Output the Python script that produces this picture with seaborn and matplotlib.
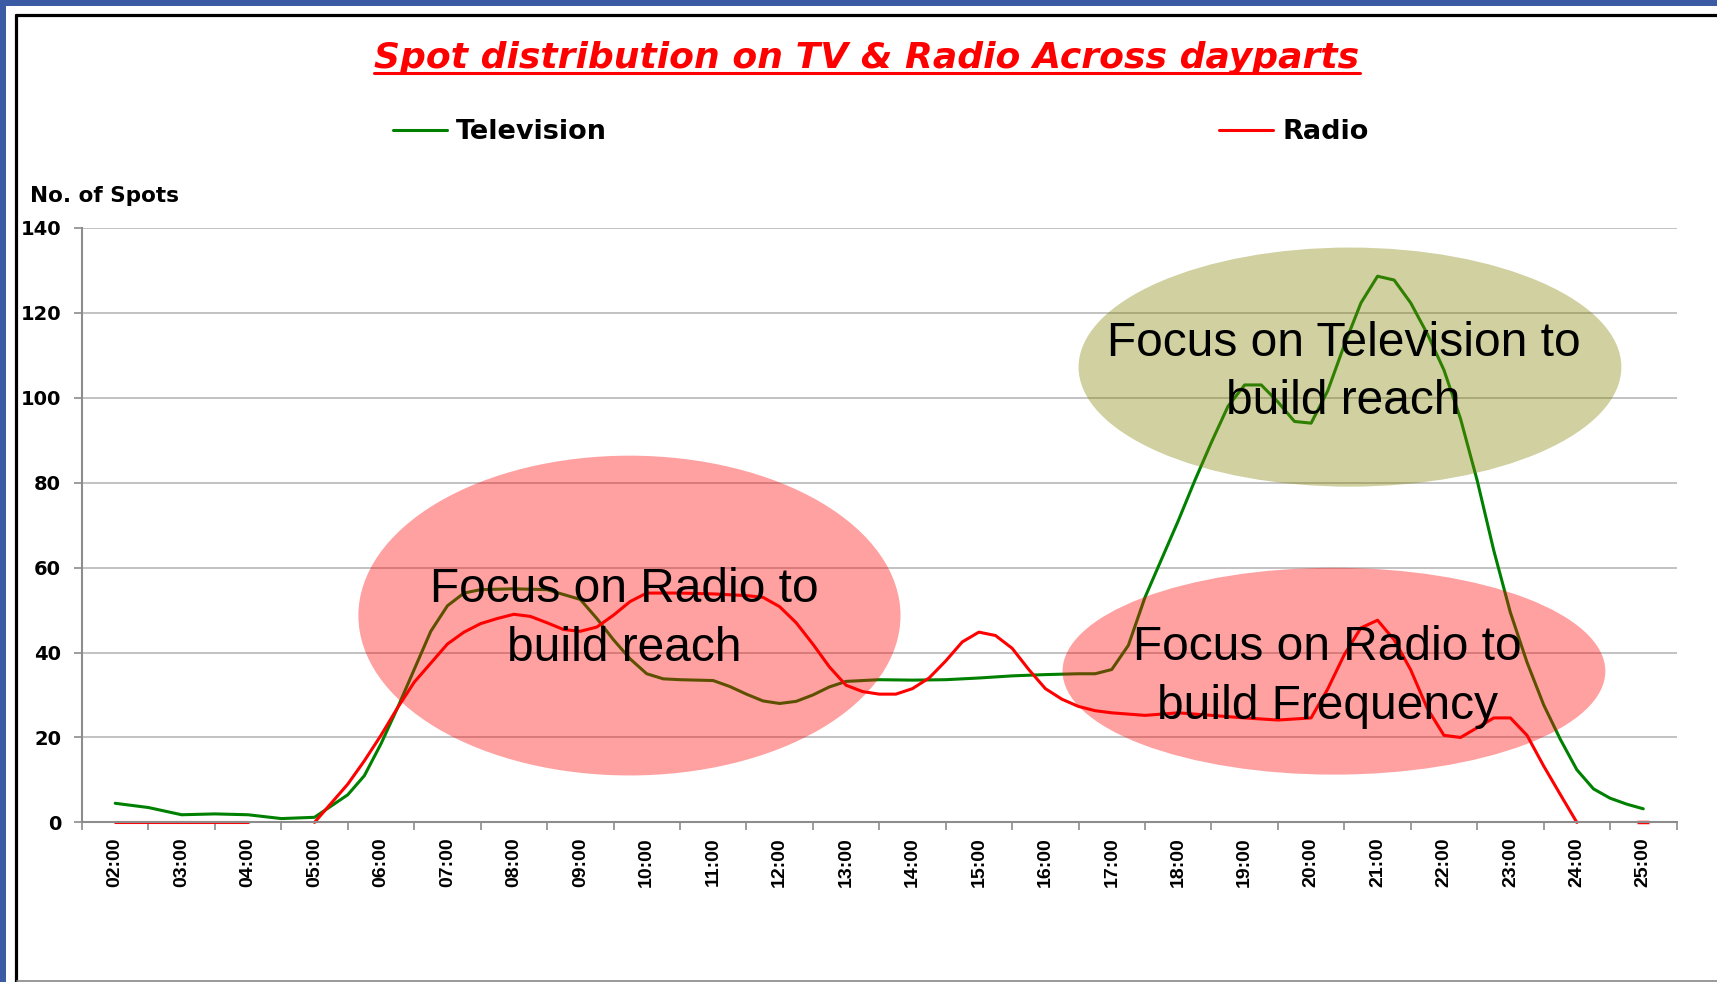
import numpy as np
import pandas as pd
import matplotlib
matplotlib.use("Agg")
import matplotlib.pyplot as plt
import seaborn as sns
from matplotlib.patches import Ellipse, Rectangle
from matplotlib.lines import Line2D
from matplotlib import font_manager

# hour labels on the category axis
hours = ["02:00", "03:00", "04:00", "05:00", "06:00", "07:00", "08:00", "09:00",
         "10:00", "11:00", "12:00", "13:00", "14:00", "15:00", "16:00", "17:00",
         "18:00", "19:00", "20:00", "21:00", "22:00", "23:00", "24:00", "25:00"]

# Television spots
tv_times = ["02:00", "02:30", "03:00", "03:30", "04:00", "04:30", "05:00", "05:30", "05:45",
            "06:00", "06:15", "06:30", "06:45", "07:00", "07:15", "07:30", "08:00", "08:30",
            "09:00", "09:15", "09:30", "09:45", "10:00", "10:15", "10:30", "11:00", "11:15",
            "11:30", "11:45", "12:00", "12:15", "12:30", "12:45", "13:00", "13:30", "14:00",
            "14:30", "15:00", "15:30", "16:00", "16:30", "16:45", "17:00", "17:15", "17:30",
            "17:45", "18:00", "18:15", "18:30", "18:45", "19:00", "19:15", "19:30", "19:45",
            "20:00", "20:15", "20:30", "20:45", "21:00", "21:15", "21:30", "21:45", "22:00",
            "22:15", "22:30", "22:45", "23:00", "23:15", "23:30", "23:45", "24:00", "24:15",
            "24:30", "24:45", "25:00"]
tv_spots = [4.5, 3.5, 1.8, 2.0, 1.8, 0.9, 1.2, 6.5, 11,
            18.5, 27, 36, 45, 51, 54, 54.8, 55, 54.8,
            52.5, 48, 43, 38.5, 35, 33.8, 33.6, 33.4, 32,
            30.2, 28.6, 28, 28.5, 30, 31.9, 33.2, 33.6, 33.5,
            33.6, 34, 34.5, 34.8, 35, 35, 36, 41.7, 53,
            62, 71, 80.5, 89.5, 98, 103, 103, 99, 94.4,
            94, 101.6, 112.4, 122.3, 128.6, 127.7, 122.3, 115, 106.5,
            95, 80.5, 64, 49.4, 37.7, 27.7, 19.6, 12.4, 7.9,
            5.7, 4.3, 3.2]

# Radio spots (None = no value, the line breaks there)
radio_times = ["02:00", "02:30", "03:00", "03:30", "04:00", "04:30", "05:00", "05:30", "05:45",
               "06:00", "06:15", "06:30", "06:45", "07:00", "07:15", "07:30", "07:45", "08:00",
               "08:15", "08:30", "08:45", "09:00", "09:15", "09:30", "09:45", "10:00", "10:30",
               "11:00", "11:30", "11:45", "12:00", "12:15", "12:30", "12:45", "13:00", "13:15",
               "13:30", "13:45", "14:00", "14:15", "14:30", "14:45", "15:00", "15:15", "15:30",
               "15:45", "16:00", "16:15", "16:30", "16:45", "17:00", "17:30", "18:00", "18:30",
               "19:00", "19:30", "20:00", "20:15", "20:30", "20:45", "21:00", "21:15", "21:30",
               "21:45", "22:00", "22:15", "22:30", "22:45", "23:00", "23:15", "23:30", "23:45",
               "24:00", "24:30", "25:00"]
radio_spots = [0, 0, 0, 0, 0, None, 0, 9, 14.5,
               20.5, 27, 33, 37.5, 42, 44.8, 46.8, 48, 49,
               48.5, 47, 45.4, 45, 46, 48.8, 52, 54, 54,
               53.8, 53.4, 53, 50.8, 47, 42, 36.6, 32.3, 30.8,
               30.2, 30.2, 31.5, 34, 38, 42.5, 44.8, 44, 41,
               36, 31.5, 29, 27.3, 26.3, 25.8, 25.2, 25.8, 25.2,
               24.6, 24.1, 24.6, 31.4, 39.5, 45.8, 47.6, 43, 35.9,
               26.8, 20.5, 20, 22.3, 24.6, 24.6, 20.5, 13.3, 6.6,
               0, None, 0]

title = "Spot distribution on TV & Radio Across dayparts"
notes = ["Focus on Radio to\nbuild reach",
         "Focus on Television to\nbuild reach",
         "Focus on Radio to\nbuild Frequency"]


def to_pos(t):
    # category position: 02:00 -> 0, one unit per hour
    h, m = t.split(":")
    return int(h) - 2 + int(m) / 60


sns.set_theme(style="white")
plt.rcParams["font.family"] = ["DejaVu Sans"]
plt.rcParams["text.color"] = "black"
plt.rcParams["xtick.color"] = "black"
plt.rcParams["ytick.color"] = "black"

installed = {f.name for f in font_manager.fontManager.ttflist}
xfont = "Liberation Sans Narrow" if "Liberation Sans Narrow" in installed else "Liberation Sans"
xsize = 16 if xfont == "Liberation Sans Narrow" else 14

W, H = 1717, 982
fig = plt.figure(figsize=(W / 100, H / 100), dpi=100, facecolor="#3B5BA5")

# slide frame
fig.patches.append(Rectangle((6 / W, 0), 1, 1 - 6 / H, transform=fig.transFigure,
                             facecolor="white", edgecolor="none", zorder=-2))
fig.lines.append(Line2D([15.5 / W, 15.5 / W], [0, 1 - 14.5 / H], transform=fig.transFigure,
                        color="black", lw=2.3))
fig.lines.append(Line2D([15.5 / W, 1], [1 - 14.5 / H, 1 - 14.5 / H], transform=fig.transFigure,
                        color="black", lw=2.3))
fig.lines.append(Line2D([17 / W, 1], [1 - 980.5 / H, 1 - 980.5 / H], transform=fig.transFigure,
                        color="#888888", lw=1.2))

ax = fig.add_axes([82 / W, 1 - 822.4 / H, 1594.5 / W, 594.6 / H])
ax.set_facecolor("none")

tv_df = pd.DataFrame({"x": [to_pos(t) for t in tv_times], "spots": tv_spots})
r_df = pd.DataFrame({"x": [to_pos(t) for t in radio_times],
                     "spots": pd.to_numeric(pd.Series(radio_spots, dtype="object"))})
r_df["seg"] = r_df["spots"].isna().cumsum()
r_df = r_df.dropna(subset=["spots"])

sns.lineplot(data=tv_df, x="x", y="spots", color="#008000", lw=2.2, ax=ax, legend=False)
sns.lineplot(data=r_df, x="x", y="spots", units="seg", estimator=None,
             color="#FF0000", lw=2.2, ax=ax, legend=False)
# single points with no neighbours show as a short dash
single = r_df.groupby("seg").filter(lambda g: len(g) == 1)
ax.plot(single["x"], single["spots"], ls="none", marker="_", ms=8, mew=2.5, color="#FF0000")
for ln in ax.lines:
    ln.set_clip_on(False)

ax.set_xlim(-0.5, 23.5)
ax.set_ylim(0, 140)
ax.set_yticks(np.arange(0, 141, 20))
ax.set_xticks(np.arange(-0.5, 24, 1))
ax.set_xticklabels([])
ax.set_xticks(np.arange(len(hours)), minor=True)
ax.set_xticklabels(hours, minor=True, rotation=90, fontsize=xsize, fontweight="bold",
                   family=xfont)
ax.tick_params(axis="x", which="major", direction="out", length=6, width=1.2,
               color="#8c8c8c", bottom=True)
ax.tick_params(axis="x", which="minor", length=0, pad=11, bottom=True)
ax.tick_params(axis="y", direction="out", length=6, width=1.2, color="#8c8c8c",
               pad=9, left=True, labelsize=14)
for lab in ax.get_yticklabels():
    lab.set_fontweight("bold")
ax.set_xlabel("")
ax.set_ylabel("")
ax.grid(axis="y", color="#b8b8b8", lw=1.2)
ax.grid(axis="x", visible=False)
ax.set_axisbelow(True)
for side in ["top", "right"]:
    ax.spines[side].set_visible(False)
for side in ["left", "bottom"]:
    ax.spines[side].set_color("#8c8c8c")
    ax.spines[side].set_linewidth(1.5)

# highlight ellipses and notes
ell = [((7.74, 48.7), 8.16, 75.3, "#FF0000"),
       ((18.585, 107.2), 8.17, 56.3, "#808000"),
       ((18.344, 35.6), 8.17, 48.7, "#FF0000")]
for (c, w, h, col) in ell:
    ax.add_patch(Ellipse(c, w, h, facecolor=col, edgecolor="none", alpha=0.37,
                         zorder=5, clip_on=False))
note_pos = [(7.66, 47.9), (18.49, 106.0), (18.25, 34.2)]
for (nx, ny), txt in zip(note_pos, notes):
    ax.text(nx, ny, txt, ha="center", va="center", fontsize=34.5, family="Liberation Sans",
            color="black", linespacing=1.38, zorder=6)

# y axis caption
fig.text(30 / W, 1 - 201.7 / H, "No. of Spots", ha="left", va="baseline",
         fontsize=15.5, fontweight="bold")

# legend
handles = [Line2D([], [], color="#008000", lw=2.2), Line2D([], [], color="#FF0000", lw=2.2)]
fig.legend(handles, ["Television", "Radio"], loc="center left",
           bbox_to_anchor=(393 / W, 1 - 132 / H), bbox_transform=fig.transFigure,
           ncol=2, frameon=False, borderpad=0, borderaxespad=0,
           prop={"size": 19.5, "weight": "bold"}, handlelength=2.0,
           handletextpad=0.33, columnspacing=22.6)

# title with underline
t = fig.text(867 / W, 1 - 68 / H, title, ha="center", va="baseline", color="#FF0000",
             fontsize=26, fontweight="bold", style="italic")
fig.canvas.draw()
bb = t.get_window_extent()
fig.lines.append(Line2D([bb.x0 / W, bb.x1 / W], [1 - 72.5 / H, 1 - 72.5 / H],
                        transform=fig.transFigure, color="#FF0000", lw=2.2))

fig.savefig("out.png", dpi=100, facecolor=fig.get_facecolor())
